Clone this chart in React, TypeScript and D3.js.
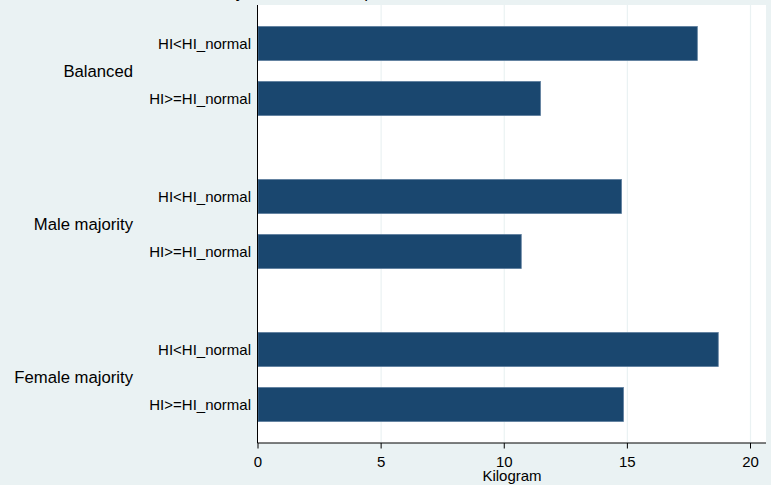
import React from "react";
import * as d3 from "d3";

const groups = ["Balanced", "Male majority", "Female majority"];
const subgroups = ["HI<HI_normal", "HI>=HI_normal"];
const balancedValues = [17.84, 11.47];
const maleMajorityValues = [14.76, 10.69];
const femaleMajorityValues = [18.69, 14.84];
const xTicks = [0, 5, 10, 15, 20];
const titleText = "by household composition and HI status";
const xTitle = "Kilogram";

const W = 771;
const H = 485;
const plotLeft = 258;
const plotRight = 766;
const plotTop = 5;
const plotBottom = 443;

export default function App() {
  const valuesByGroup = [balancedValues, maleMajorityValues, femaleMajorityValues];
  const x = d3.scaleLinear().domain([0, 20]).range([plotLeft, plotLeft + 492.5]);
  const y0 = d3
    .scaleBand<string>()
    .domain(groups)
    .range([plotTop, plotBottom])
    .paddingInner(64 / 153)
    .paddingOuter(21.5 / 153);
  const y1 = d3
    .scaleBand<string>()
    .domain(subgroups)
    .range([0, y0.bandwidth()])
    .paddingInner(21 / 55)
    .paddingOuter(0);

  const font = "'Liberation Sans', Arial, Helvetica, sans-serif";

  return (
    <svg
      width={W}
      height={H}
      style={{ position: "absolute", left: 0, top: 0, fontFamily: font }}
    >
      <rect x={0} y={0} width={W} height={H} fill="#EAF2F3" />
      <text x={377} y={-2.5} fontSize={17} textAnchor="middle" fill="#000">
        {titleText}
      </text>
      <rect
        x={plotLeft}
        y={plotTop}
        width={plotRight - plotLeft}
        height={plotBottom - plotTop}
        fill="#FFFFFF"
      />
      {xTicks
        .filter((t) => t !== 0)
        .map((t) => (
          <line
            key={"g" + t}
            x1={x(t)}
            x2={x(t)}
            y1={plotTop}
            y2={plotBottom}
            stroke="#EAF2F3"
            strokeWidth={1.2}
          />
        ))}
      {groups.map((g, gi) => (
        <g key={g} transform={`translate(0,${y0(g)})`}>
          {subgroups.map((s, si) => {
            const v = valuesByGroup[gi][si];
            const yy = y1(s) as number;
            return (
              <g key={s}>
                <rect
                  x={x(0)}
                  y={yy}
                  width={x(v) - x(0)}
                  height={y1.bandwidth()}
                  fill="#1A476F"
                  stroke="#5B7C9C"
                  strokeWidth={0.8}
                />
                <text
                  x={251}
                  y={yy + y1.bandwidth() / 2}
                  fontSize={15}
                  textAnchor="end"
                  dominantBaseline="central"
                  fill="#000"
                >
                  {s}
                </text>
              </g>
            );
          })}
          <text
            x={133}
            y={y0.bandwidth() / 2}
            fontSize={16.7}
            textAnchor="end"
            dominantBaseline="central"
            fill="#000"
          >
            {g}
          </text>
        </g>
      ))}
      <line x1={plotLeft - 0.5} x2={plotLeft - 0.5} y1={plotTop} y2={plotBottom} stroke="#000" strokeWidth={1} />
      <line x1={plotLeft - 0.5} x2={plotRight} y1={plotBottom} y2={plotBottom} stroke="#000" strokeWidth={1.2} />
      {xTicks.map((t) => (
        <g key={"t" + t}>
          <line x1={x(t)} x2={x(t)} y1={plotBottom} y2={plotBottom + 5.5} stroke="#000" strokeWidth={1} />
          <text x={x(t)} y={466.5} fontSize={15} textAnchor="middle" fill="#000">
            {t}
          </text>
        </g>
      ))}
      <text x={(plotLeft + plotRight) / 2} y={481} fontSize={15} textAnchor="middle" fill="#000">
        {xTitle}
      </text>
    </svg>
  );
}
